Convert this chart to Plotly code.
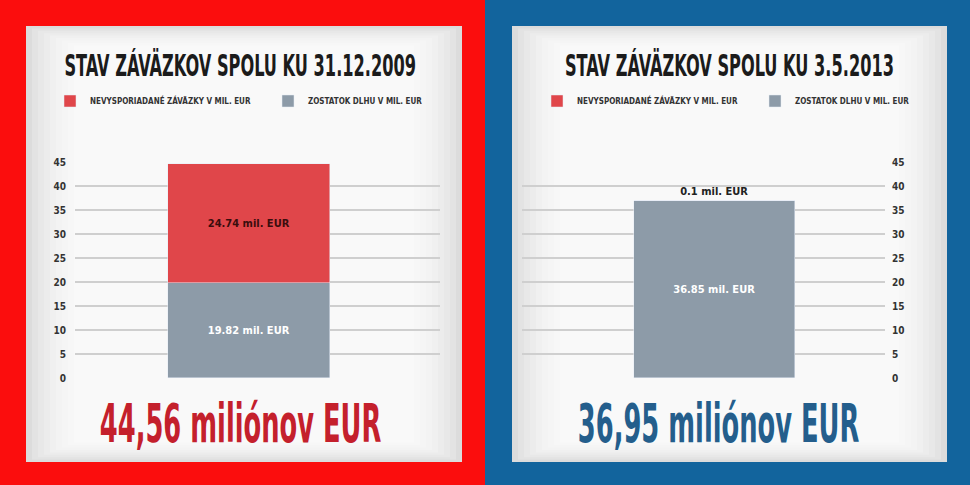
import plotly.graph_objects as go

# ---- data ----
series_names = ["NEVYSPORIADANÉ ZÁVÄZKY V MIL. EUR", "ZOSTATOK DLHU V MIL. EUR"]
dates = ["31.12.2009", "3.5.2013"]
unsettled = [24.74, 0.1]          # red series
debt_balance = [19.82, 36.85]     # grey series
unsettled_labels = ["24.74 mil. EUR", "0.1 mil. EUR"]
debt_labels = ["19.82 mil. EUR", "36.85 mil. EUR"]
totals_text = ["44,56 miliónov EUR", "36,95 miliónov EUR"]
titles = ["STAV ZÁVÄZKOV SPOLU KU 31.12.2009", "STAV ZÁVÄZKOV SPOLU KU 3.5.2013"]
y_ticks = [0, 5, 10, 15, 20, 25, 30, 35, 40, 45]

W, H = 970, 485
RED_SERIES = "#e0464a"
GREY_SERIES = "#8d9ba8"
COND = "DejaVu Sans Condensed, Liberation Sans Narrow, sans-serif"

def px(x):
    return x / W

def py(y):
    return 1 - y / H

fig = go.Figure()

lab_font = dict(size=11, family=COND, weight=700)
# left panel traces
fig.add_trace(go.Bar(x=[dates[0]], y=[debt_balance[0]], name=series_names[1],
                     marker_color=GREY_SERIES, width=1, text=[debt_labels[0]],
                     textposition="inside", insidetextanchor="middle",
                     textfont=dict(color="white", **lab_font),
                     xaxis="x", yaxis="y", legend="legend", legendrank=2))
fig.add_trace(go.Bar(x=[dates[0]], y=[unsettled[0]], name=series_names[0],
                     marker_color=RED_SERIES, width=1, text=[unsettled_labels[0]],
                     textposition="inside", insidetextanchor="middle",
                     textfont=dict(color="#3a0d0d", **lab_font),
                     xaxis="x", yaxis="y", legend="legend", legendrank=1))
# right panel traces
fig.add_trace(go.Bar(x=[dates[1]], y=[debt_balance[1]], name=series_names[1],
                     marker_color=GREY_SERIES, width=1, text=[debt_labels[1]],
                     textposition="inside", insidetextanchor="middle",
                     textfont=dict(color="white", **lab_font),
                     xaxis="x2", yaxis="y2", legend="legend2", legendrank=2))
fig.add_trace(go.Bar(x=[dates[1]], y=[unsettled[1]], name=series_names[0],
                     marker_color=RED_SERIES, width=1, text=[unsettled_labels[1]],
                     textposition="outside", cliponaxis=False,
                     textfont=dict(color="#222222", **lab_font),
                     xaxis="x2", yaxis="y2", legend="legend2", legendrank=1))

# ---- background shapes (frames + cards with soft gradient) ----
shapes = [
    dict(type="rect", xref="paper", yref="paper", x0=-0.05, x1=px(485), y0=-0.05, y1=1.05,
         fillcolor="#fb0d0d", line_width=0, layer="below"),
    dict(type="rect", xref="paper", yref="paper", x0=px(485), x1=1.05, y0=-0.05, y1=1.05,
         fillcolor="#12649d", line_width=0, layer="below"),
]
card_steps = ["#dcdcdc", "#e3e3e3", "#e8e8e8", "#ececec", "#f0f0f0",
              "#f3f3f3", "#f5f5f5", "#f7f7f7", "#f9f9f9"]
for (cx0, cx1) in [(26, 462), (512, 947)]:
    for i, c in enumerate(card_steps):
        ins = i * 6
        shapes.append(dict(type="rect", xref="paper", yref="paper",
                           x0=px(cx0 + ins), x1=px(cx1 - ins),
                           y0=py(462 - ins * 0.4), y1=py(26 + ins * 0.4),
                           fillcolor=c, line_width=0, layer="below"))

annotations = []
for i, cx in enumerate([240, 729]):
    annotations.append(dict(text=titles[i], x=px(cx), y=py(66),
                            xref="paper", yref="paper", showarrow=False,
                            xanchor="center", yanchor="middle",
                            font=dict(family=COND, size=30, color="#1b1b1b", weight=700)))
annotations.append(dict(text=totals_text[0], x=px(240), y=py(423),
                        xref="paper", yref="paper", showarrow=False,
                        xanchor="center", yanchor="middle",
                        font=dict(family=COND, size=54, color="#c4202c", weight=700)))
annotations.append(dict(text=totals_text[1], x=px(718), y=py(423),
                        xref="paper", yref="paper", showarrow=False,
                        xanchor="center", yanchor="middle",
                        font=dict(family=COND, size=54, color="#245e8c", weight=700)))

axis_common = dict(range=[0, 45], tickvals=y_ticks, showgrid=True,
                   gridcolor="#cfcfcf", gridwidth=2, zeroline=False,
                   showline=False, ticks="", automargin=False,
                   tickfont=dict(family=COND, size=10, color="#333333", weight=700))

legend_common = dict(orientation="h", bgcolor="rgba(0,0,0,0)", traceorder="normal",
                     font=dict(family=COND, size=8, color="#333333", weight=700),
                     entrywidth=173, entrywidthmode="pixels",
                     xanchor="left", yanchor="middle", itemclick=False)

fig.update_layout(
    width=W, height=H, autosize=False,
    margin=dict(l=0, r=0, t=0, b=0, pad=0, autoexpand=False),
    paper_bgcolor="#ffffff", plot_bgcolor="rgba(0,0,0,0)",
    barmode="stack", bargap=0,
    showlegend=True,
    xaxis=dict(domain=[px(75), px(440)], range=[-1.074, 1.179], automargin=False,
               showticklabels=False, showgrid=False, zeroline=False),
    yaxis=dict(domain=[py(378), py(162)], anchor="x", ticklabelstandoff=8,
               **axis_common),
    xaxis2=dict(domain=[px(522), px(885)], range=[-1.2, 1.06], automargin=False,
                showticklabels=False, showgrid=False, zeroline=False, anchor="y2"),
    yaxis2=dict(domain=[py(378), py(162)], anchor="x2", side="right",
                ticklabelstandoff=6, **axis_common),
    legend=dict(x=px(50), y=py(101), **legend_common),
    legend2=dict(x=px(537), y=py(101), **legend_common),
    shapes=shapes,
    annotations=annotations,
)

post = """
document.documentElement.style.margin='0';
document.body.style.margin='0';
document.body.style.padding='0';
document.body.style.overflow='hidden';
var gd = document.getElementById('{plot_id}');
gd.style.position='fixed';
gd.style.left='0px';
gd.style.top='0px';
var scales = [0.60, 0.60, 0.53, 0.53];
gd.querySelectorAll('g.annotation').forEach(function(g, i){
  var t = g.querySelector('text.annotation-text');
  if (t && i < scales.length) {
    t.style.transformBox = 'fill-box';
    t.style.transformOrigin = 'center';
    t.style.transform = 'scaleX(' + scales[i] + ')';
  }
});
"""

fig.write_html("out.html", post_script=post, config={"displayModeBar": False})
